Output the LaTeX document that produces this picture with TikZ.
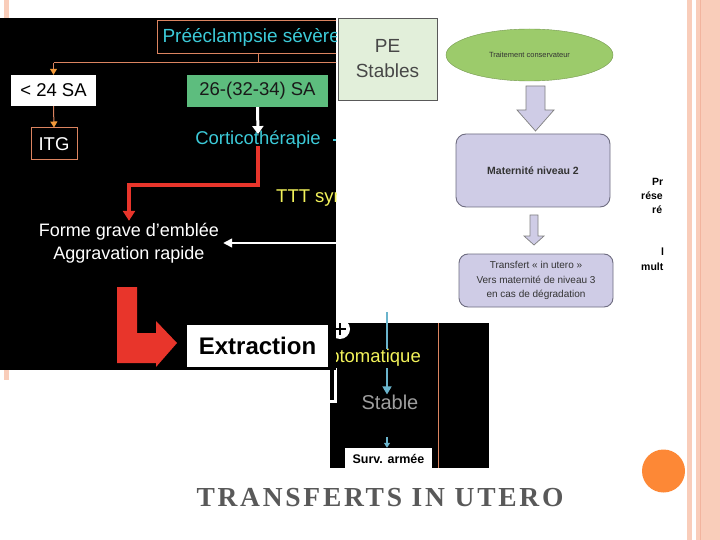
\documentclass[tikz,border=0pt]{standalone}
\usepackage{fontspec}
\setmainfont{Liberation Sans}
\newfontfamily\titlefont[LetterSpace=10]{Liberation Serif}
\usetikzlibrary{arrows.meta,shapes.geometric}
\definecolor{cyantxt}{HTML}{3CCAD8}
\definecolor{orln}{HTML}{DC8460}
\definecolor{orarr}{HTML}{F39A3A}
\definecolor{grbox}{HTML}{5DBD7E}
\definecolor{redarr}{HTML}{E8352B}
\definecolor{yel}{HTML}{F2F25A}
\definecolor{bluel}{HTML}{6AB4CC}
\definecolor{pegreen}{HTML}{E2EFDA}
\definecolor{lav}{HTML}{CFCCE6}
\definecolor{lavd}{HTML}{6E6C80}
\definecolor{ellg}{HTML}{9CCB6B}
\definecolor{pinkl}{HTML}{F9CDBA}
\definecolor{pinkd}{HTML}{F2B49E}
\definecolor{orcirc}{HTML}{FD8836}
\definecolor{titleg}{HTML}{595959}
\definecolor{darktxt}{HTML}{333333}
\tikzset{
  big/.style={font=\fontsize{18.5}{22}\selectfont, inner sep=0pt},
  small/.style={font=\fontsize{10}{14.5}\selectfont, text=darktxt, align=center},
  oline/.style={draw=orln, line width=1pt},
  oarrow/.style={-{Triangle[length=6pt,width=7pt,color=orarr]}},
  lavbox/.style={draw=lavd, fill=lav, rounded corners=10pt, line width=0.9pt},
  blockarrow/.style={draw=gray, fill=lav, line width=0.7pt},
  redline/.style={draw=redarr, line width=4pt},
}
\begin{document}
\begin{tikzpicture}[x=1pt,y=-1pt]
\useasboundingbox (0,0) rectangle (720,540);
\fill[white] (0,0) rectangle (720,540);
% slide decorations
\fill[pinkl] (4,0) rectangle (9,380);
\fill[pinkl] (687,0) rectangle (691.5,540);
\fill[pinkl] (696,0) rectangle (720,540);
\draw[pinkd, line width=1.2pt] (700.5,0) -- (700.5,540);
\fill[orcirc] (663.5,471) circle (21.5);

% ---------- right flowchart ----------
\node[draw=gray!70!black, fill=pegreen, minimum width=99pt, minimum height=82pt,
      font=\fontsize{19}{25}\selectfont, text=darktxt!90!white, align=center, line width=0.8pt] (pe) at (387.5,59) {PE\\Stables};
\node[ellipse, fill=ellg, draw=ellg!75!black, minimum width=167pt, minimum height=52pt,
      font=\fontsize{7.5}{8}\selectfont, text=darktxt, inner sep=0pt] (cons) at (529.5,55) {Traitement conservateur};
\node[lavbox, minimum width=154pt, minimum height=73pt, font=\fontsize{10.5}{12}\selectfont\bfseries, text=darktxt] (mat2) at (533,170.5) {Maternité niveau 2};
\node[lavbox, rounded corners=9pt, minimum width=154pt, minimum height=53pt, small, inner sep=0pt] (trans) at (536,280.5) {Transfert « in utero »\\Vers maternité de niveau 3\\en cas de dégradation};
\fill[blockarrow] (526,86) -- (545,86) -- (545,110) -- (554,110) -- (535.5,131) -- (517,110) -- (526,110) -- cycle;
\fill[blockarrow] (530,215) -- (538,215) -- (538,236) -- (544,236) -- (534,245) -- (524,236) -- (530,236) -- cycle;
\begin{scope}
  \clip (620,150) rectangle (664.5,290);
  \node[anchor=west, font=\fontsize{10.5}{12}\selectfont\bfseries, inner sep=0pt] (t1) at (652,182) {Pr};
  \node[anchor=west, font=\fontsize{10.5}{12}\selectfont\bfseries, inner sep=0pt] (t2) at (641,196) {rése};
  \node[anchor=west, font=\fontsize{10.5}{12}\selectfont\bfseries, inner sep=0pt] (t3) at (652,210) {ré};
  \node[anchor=west, font=\fontsize{10.5}{12}\selectfont\bfseries, inner sep=0pt] (t4) at (661,252) {l};
  \node[anchor=west, font=\fontsize{10.5}{12}\selectfont\bfseries, inner sep=0pt] (t5) at (641,267) {mult};
\end{scope}

% ---------- second black image ----------
\fill[black] (330,323) rectangle (489,468);
\begin{scope}
  \clip (330,323) rectangle (489,468);
  \fill[white] (340,329) circle (10);
  \draw[black, line width=2.5pt] (334,329) -- (346,329) (340,323) -- (340,335);
  \draw[white, line width=3pt] (335,368) -- (335,401) -- (328,401);
  \draw[orln, line width=0.8pt] (438,323) -- (438,468);
  \node[big, text=yel, anchor=east] (sympt) at (421,358) {ptomatique};
  \node[font=\fontsize{20}{24}\selectfont, text=gray!75!white, inner sep=0pt] (stable) at (390,402) {Stable};
  \node[fill=white, minimum width=87pt, minimum height=21pt, inner sep=0pt,
        font=\fontsize{12.5}{14}\selectfont\bfseries] (surv) at (388.5,458.5) {Surv. armée};
  \draw[bluel, line width=1.5pt, -{Triangle[length=8pt,width=9pt]}] (387,368) -- (stable.north -| 387,0);
  \draw[bluel, line width=1.2pt, -{Triangle[length=5pt,width=6pt]}] (387,437) -- (surv.north -| 387,0);
\end{scope}
\coordinate (bt) at (387,312);
\draw[bluel, line width=2.5pt] (bt) -- (sympt.north -| bt);

% ---------- first black image ----------
\fill[black] (0,18) rectangle (336,370);
\begin{scope}
  \clip (0,18) rectangle (336,370);
  \node[oline, anchor=west, minimum height=33pt, inner xsep=5pt, inner ysep=0pt, text=cyantxt,
        font=\fontsize{19}{22}\selectfont] (pree) at (157,37.5) {Prééclampsie sévère};
  \node[fill=white, minimum width=85pt, minimum height=31pt, big] (lt24) at (53.5,90.5) {< 24 SA};
  \node[oline, minimum width=46pt, minimum height=32pt, big, text=white] (itg) at (54,144) {ITG};
  \node[fill=grbox, minimum width=141pt, minimum height=32pt, big, text=black!90] (gr) at (257.5,91) {26-(32-34) SA};
  \node[big, text=cyantxt] (cortico) at (258,140) {Corticothérapie};
  \node[big, text=yel, anchor=west] (ttt) at (276,198) {TTT symptomatique};
  \node[big, text=white, align=center, font=\fontsize{18}{23}\selectfont] (forme) at (129,243) {Forme grave d’emblée\\Aggravation rapide};
  \coordinate (j) at (258,63);
  \coordinate (jr) at (340,63);
  \draw[oline] (j |- pree.south) -- (j);
  \draw[oline] (lt24.north |- j) -- (jr);
  \draw[oline, oarrow] (lt24.north |- j) -- (lt24.north);
  \draw[oline, oarrow] (lt24.south) -- (itg.north);
  \draw[white, line width=3pt, -{Triangle[length=8pt,width=11pt]}] (gr.south) -- ([yshift=-3pt]cortico.north);
  \coordinate (cd) at (336,140);
  \draw[cyantxt, line width=1.5pt] (333,140) -- (cd);
  \coordinate (rc) at (258,185);
  \draw[redline, -{Triangle[length=10pt,width=12pt]}] ([yshift=3pt]cortico.south) -- (rc) -- (rc -| forme) -- ([yshift=2pt]forme.north);
  \coordinate (wr) at (336,243);
  \draw[white, line width=1.5pt, -{Triangle[length=9pt,width=9pt]}] (wr) -- ([xshift=4pt]forme.east);
  \fill[redarr] (117,287) -- (137,287) -- (137,333) -- (156,333) -- (156,321) -- (177,343) -- (156,367) -- (156,363) -- (117,363) -- cycle;
\end{scope}
\node[fill=white, minimum width=141pt, minimum height=42pt, inner sep=0pt,
      font=\fontsize{24}{28}\selectfont\bfseries] (extr) at (257.5,346) {Extraction};

% ---------- title ----------
\node[text=titleg, font=\fontsize{27.5}{32}\titlefont\bfseries, inner sep=0pt] (title) at (380,498) {TRANSFERTS IN UTERO};
\end{tikzpicture}
\end{document}
